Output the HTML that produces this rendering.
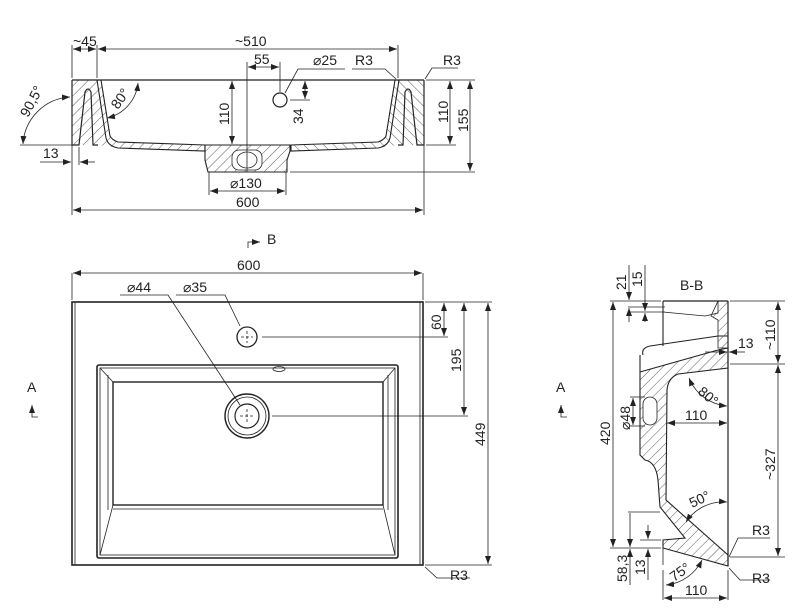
<!DOCTYPE html>
<html><head><meta charset="utf-8"><style>
html,body{margin:0;padding:0;background:#fff}
svg{display:block}
text{font-family:"Liberation Sans",sans-serif;font-size:14px;fill:#222;stroke:none}
</style></head><body>
<svg width="800" height="613" viewBox="0 0 800 613" xmlns="http://www.w3.org/2000/svg">
<defs>
<pattern id="h" width="7" height="7" patternUnits="userSpaceOnUse" patternTransform="rotate(45)">
<line x1="0" y1="0" x2="0" y2="7" stroke="#333" stroke-width="0.8"/></pattern>
<marker id="a" markerWidth="8" markerHeight="6" refX="8" refY="3" orient="auto-start-reverse" markerUnits="userSpaceOnUse"><path d="M0,0 L8,3 L0,6 z" fill="#222" stroke="none"/></marker>
</defs>
<g fill="none" stroke="#222" stroke-width="0.8">
<!-- ===== TOP SECTION ===== -->
<g id="half">
<path d="M72,80 L97,80 L106,138 Q108,146 118,148 L205,151 L205,145 L118,142 Q112,140 110,136 L101,80" fill="url(#h)" stroke-width="1.1"/>
<path d="M72,80 L72,145 L79,145 L85,92 Q88,86 91,92 L93,145 L98,145" stroke-width="1.2"/>
<path d="M72,80 L72,145 L79,145 L85,92 Q88,86 91,92 L93,145 L72,145 Z" fill="url(#h)" stroke="none"/>
<path d="M72,80 L97,80 L106,138 Q108,146 118,148 L98,145 L93,145 L91,92 Q88,86 85,92 L79,145 L72,145Z" fill="url(#h)" stroke="none"/>
</g>
<use href="#half" transform="translate(496,0) scale(-1,1)"/>
<line x1="72" y1="80" x2="424" y2="80" stroke-width="1.3"/>
<path d="M205,145 L290,145 L290,151 L287,160 L287,172 L208,172 L205,160 Z" fill="url(#h)" stroke-width="1.1"/>
<rect x="232" y="150" width="30" height="20" rx="7" fill="#fff"/>
<ellipse cx="247" cy="160" rx="10" ry="8" fill="#fff"/>
<circle cx="280" cy="100" r="7" stroke-width="1.2"/>
<!-- dims top -->
<line x1="72" y1="80" x2="72" y2="215"/><line x1="424" y1="80" x2="424" y2="215"/>
<line x1="73" y1="210" x2="423" y2="210" marker-start="url(#a)" marker-end="url(#a)"/>
<text x="236" y="207">600</text>
<line x1="97" y1="78" x2="97" y2="45"/><line x1="398" y1="78" x2="398" y2="45"/><line x1="72" y1="45" x2="72" y2="78"/>
<line x1="98" y1="49" x2="397" y2="49" marker-start="url(#a)" marker-end="url(#a)"/>
<line x1="73" y1="49" x2="96" y2="49" marker-start="url(#a)" marker-end="url(#a)"/>
<text x="73" y="46">~45</text><text x="235" y="46">~510</text>
<line x1="209" y1="172" x2="209" y2="195"/><line x1="286" y1="172" x2="286" y2="195"/>
<line x1="210" y1="191" x2="285" y2="191" marker-start="url(#a)" marker-end="url(#a)"/>
<text x="230" y="188">⌀130</text>
<line x1="247" y1="62" x2="247" y2="172"/><line x1="280" y1="62" x2="280" y2="92"/>
<line x1="248" y1="67" x2="279" y2="67" marker-start="url(#a)" marker-end="url(#a)"/>
<text x="254" y="64">55</text>
<line x1="232" y1="81" x2="232" y2="144" marker-start="url(#a)" marker-end="url(#a)"/>
<text transform="translate(229,125) rotate(-90)">110</text>
<path d="M285,93 L298,69 L345,69"/><text x="313" y="65">⌀25</text>
<line x1="290" y1="100" x2="310" y2="100"/>
<line x1="305" y1="81" x2="305" y2="99" marker-start="url(#a)" marker-end="url(#a)"/>
<text transform="translate(303,124) rotate(-90)">34</text>
<path d="M352,69 L385,69 L396,79"/><text x="355" y="65">R3</text>
<path d="M425,79 L432,68 L458,68"/><text x="443" y="65">R3</text>
<line x1="426" y1="80" x2="475" y2="80"/><line x1="426" y1="145" x2="456" y2="145"/><line x1="290" y1="172" x2="475" y2="172"/>
<line x1="450" y1="81" x2="450" y2="144" marker-start="url(#a)" marker-end="url(#a)"/>
<text transform="translate(448,123) rotate(-90)">110</text>
<line x1="470" y1="81" x2="470" y2="171" marker-start="url(#a)" marker-end="url(#a)"/>
<text transform="translate(468,132) rotate(-90)">155</text>
<line x1="20" y1="145" x2="72" y2="145"/>
<path d="M70,97 A50,50 0 0 0 23,144" marker-start="url(#a)" marker-end="url(#a)"/>
<text transform="translate(28,118) rotate(-62)">90,5°</text>
<path d="M138,83 A40,40 0 0 1 107,118" marker-start="url(#a)" marker-end="url(#a)"/>
<text transform="translate(118,110) rotate(-55)">80°</text>
<line x1="79" y1="147" x2="79" y2="165"/>
<line x1="40" y1="162" x2="71" y2="162" marker-end="url(#a)"/><line x1="95" y1="162" x2="80" y2="162" marker-end="url(#a)"/>
<text x="43" y="158">13</text>

<!-- ===== PLAN VIEW ===== -->
<rect x="72" y="302" width="351" height="263" stroke-width="1.6"/>
<line x1="75" y1="302" x2="75" y2="565"/><line x1="420" y1="302" x2="420" y2="565"/>
<rect x="97" y="365" width="301" height="193" rx="2" stroke-width="1.6"/>
<rect x="100" y="368" width="295" height="187"/>
<rect x="113" y="382" width="270" height="123" stroke-width="1.4"/>
<line x1="100" y1="368" x2="113" y2="382"/><line x1="395" y1="368" x2="383" y2="382"/>
<line x1="113" y1="505" x2="100" y2="555"/><line x1="383" y1="505" x2="395" y2="555"/>
<line x1="108" y1="375" x2="108" y2="510"/><line x1="388" y1="375" x2="388" y2="510"/>
<line x1="113" y1="509" x2="383" y2="509"/>
<ellipse cx="279" cy="369" rx="6" ry="2.5"/>
<circle cx="247" cy="337" r="10" stroke-width="1.3"/>
<line x1="241" y1="337" x2="253" y2="337" stroke-dasharray="3,2"/><line x1="247" y1="331" x2="247" y2="343" stroke-dasharray="3,2"/>
<circle cx="247" cy="416" r="22" stroke-width="1.4"/><circle cx="247" cy="416" r="19"/><circle cx="247" cy="416" r="12" stroke-width="1.2"/>
<line x1="240" y1="416" x2="254" y2="416" stroke-dasharray="3,2"/><line x1="247" y1="409" x2="247" y2="423" stroke-dasharray="3,2"/>
<line x1="72" y1="273" x2="72" y2="300"/><line x1="423" y1="273" x2="423" y2="300"/>
<line x1="73" y1="273" x2="422" y2="273" marker-start="url(#a)" marker-end="url(#a)"/>
<text x="237" y="270">600</text>
<path d="M120,295 L168,295 L240,405"/><text x="127" y="292">⌀44</text>
<path d="M176,295 L225,295 L240,326"/><text x="183" y="292">⌀35</text>
<line x1="262" y1="337" x2="448" y2="337"/><line x1="272" y1="416" x2="468" y2="416"/>
<line x1="425" y1="302" x2="492" y2="302"/><line x1="425" y1="565" x2="492" y2="565"/>
<line x1="444" y1="303" x2="444" y2="336" marker-start="url(#a)" marker-end="url(#a)"/>
<text transform="translate(441,330) rotate(-90)">60</text>
<line x1="464" y1="303" x2="464" y2="415" marker-start="url(#a)" marker-end="url(#a)"/>
<text transform="translate(461,372) rotate(-90)">195</text>
<line x1="488" y1="303" x2="488" y2="564" marker-start="url(#a)" marker-end="url(#a)"/>
<text transform="translate(485,446) rotate(-90)">449</text>
<path d="M425,567 L437,578 L470,578"/><text x="450" y="580">R3</text>
<path d="M248,248 L248,242 L260,242" marker-end="url(#a)"/><text x="267" y="244">B</text>
<path d="M38,417 L32,417 L32,405" marker-end="url(#a)"/><text x="27" y="392">A</text>
<path d="M567,417 L561,417 L561,405" marker-end="url(#a)"/><text x="556" y="392">A</text>

<!-- ===== SECTION B-B ===== -->
<text x="680" y="290">B-B</text>
<line x1="663" y1="301" x2="728" y2="301" stroke-width="1.2"/>
<line x1="663" y1="301" x2="663" y2="346" stroke-width="1.1"/>
<line x1="728" y1="301" x2="728" y2="566" stroke-width="1.2"/>
<path d="M663,312 L705,316 L718,313 L718,301" />
<path d="M718,301 L728,301 L728,348 L718,348 L718,320 L711,316 Z" fill="url(#h)"/>
<path d="M643,355 Q641,348 650,346 L718,336 L728,336" stroke-width="1.1"/>
<path d="M640,372 L718,350 L728,348 L728,368 L678,374 Q668,378 667,390 L666,500 L728,555 L728,566 L663,548 L663,540 L685,538 L660,507 L658,480 Q656,462 645,460 L640,455 Z" fill="url(#h)" stroke-width="1.1"/>
<line x1="640" y1="372" x2="640" y2="355" stroke-width="1.1"/>
<rect x="643" y="397" width="14" height="28" rx="7" fill="#fff"/>
<line x1="663" y1="548" x2="663" y2="565"/>
<!-- dims B-B -->
<line x1="610" y1="301" x2="661" y2="301"/><line x1="610" y1="548" x2="661" y2="548"/>
<line x1="613" y1="302" x2="613" y2="547" marker-start="url(#a)" marker-end="url(#a)"/>
<text transform="translate(610,445) rotate(-90)">420</text>
<line x1="628" y1="307" x2="665" y2="307"/><line x1="628" y1="312" x2="665" y2="312"/>
<line x1="629" y1="265" x2="629" y2="300" marker-end="url(#a)"/><line x1="629" y1="322" x2="629" y2="308" marker-end="url(#a)"/>
<line x1="645" y1="265" x2="645" y2="311" marker-end="url(#a)"/><line x1="645" y1="322" x2="645" y2="313" marker-end="url(#a)"/>
<text transform="translate(626,290) rotate(-90)">21</text>
<text transform="translate(642,287) rotate(-90)">15</text>
<line x1="630" y1="397" x2="645" y2="397"/><line x1="630" y1="426" x2="645" y2="426"/>
<line x1="633" y1="398" x2="633" y2="425" marker-start="url(#a)" marker-end="url(#a)"/>
<text transform="translate(630,430) rotate(-90)">⌀48</text>
<line x1="667" y1="423" x2="727" y2="423" marker-start="url(#a)" marker-end="url(#a)"/>
<text x="685" y="420">110</text>
<path d="M689,378 A45,45 0 0 0 727,406" marker-start="url(#a)" marker-end="url(#a)"/>
<text transform="translate(697,393) rotate(40)">80°</text>
<line x1="705" y1="352" x2="727" y2="352" marker-end="url(#a)"/><line x1="745" y1="352" x2="729" y2="352" marker-end="url(#a)"/>
<text x="738" y="348">13</text>
<line x1="730" y1="301" x2="785" y2="301"/><line x1="730" y1="364" x2="785" y2="364"/><line x1="730" y1="557" x2="785" y2="557"/>
<line x1="778" y1="302" x2="778" y2="363" marker-start="url(#a)" marker-end="url(#a)"/>
<text transform="translate(775,350) rotate(-90)">~110</text>
<line x1="778" y1="365" x2="778" y2="556" marker-start="url(#a)" marker-end="url(#a)"/>
<text transform="translate(775,480) rotate(-90)">~327</text>
<path d="M686,522 A45,45 0 0 1 727,502" marker-start="url(#a)" marker-end="url(#a)"/>
<text transform="translate(692,508) rotate(-25)">50°</text>
<path d="M729,557 L738,538 L770,538"/><text x="752" y="535">R3</text>
<path d="M729,568 L740,580 L770,580"/><text x="752" y="583">R3</text>
<line x1="628" y1="512" x2="660" y2="512"/><line x1="640" y1="540" x2="661" y2="540"/>
<line x1="630" y1="513" x2="630" y2="547" marker-end="url(#a)"/><line x1="630" y1="585" x2="630" y2="549" marker-end="url(#a)"/>
<text transform="translate(627,582) rotate(-90)">58,3</text>
<line x1="648" y1="525" x2="648" y2="539" marker-end="url(#a)"/><line x1="648" y1="580" x2="648" y2="549" marker-end="url(#a)"/>
<text transform="translate(645,575) rotate(-90)">13</text>
<path d="M702,560 A45,45 0 0 1 666,585" marker-start="url(#a)" marker-end="url(#a)"/>
<text transform="translate(674,582) rotate(-35)">75°</text>
<line x1="663" y1="570" x2="663" y2="600"/><line x1="728" y1="570" x2="728" y2="600"/>
<line x1="664" y1="598" x2="727" y2="598" marker-start="url(#a)" marker-end="url(#a)"/>
<text x="685" y="595">110</text>
</g>
</svg>
</body></html>
